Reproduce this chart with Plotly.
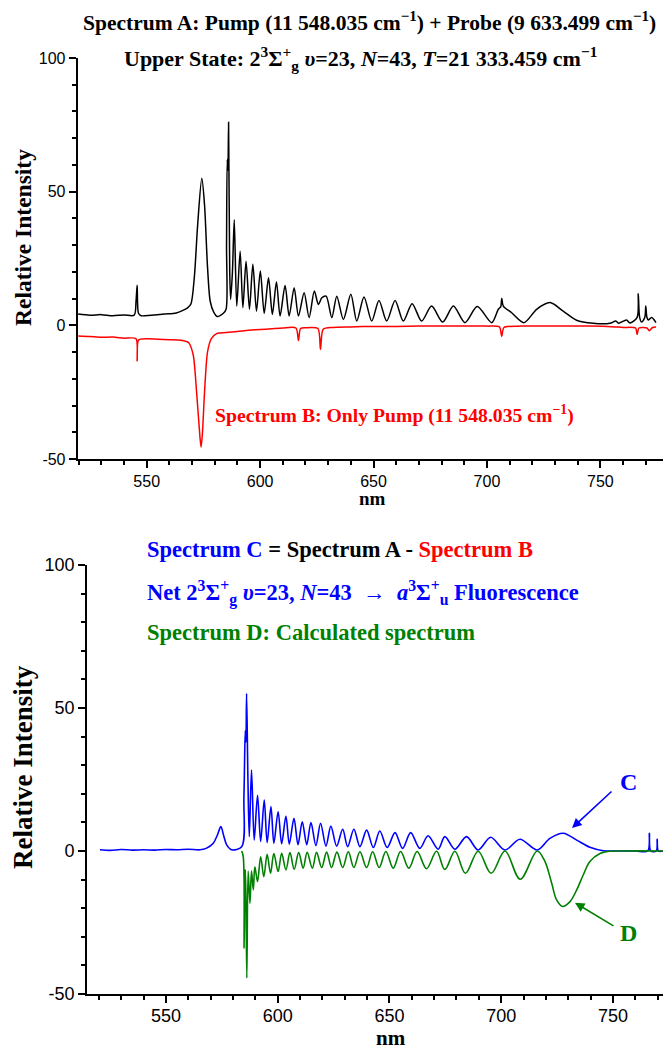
import plotly.graph_objects as go

# ---------------- data ----------------
# Spectrum A (black, top panel)
wl_a = [519.8, 525, 530, 535, 540, 544.5, 545.3, 545.8, 546.4, 547.5, 552, 558, 563, 566, 568,
        569.5, 571, 572.5, 574.3, 575.5, 576.8, 578, 579.5, 581, 583.8, 585.0, 585.2, 585.5, 585.8,
        586.1, 586.6, 587.0, 587.8, 588.6, 589.7, 591.2, 592.4, 593.8, 595.3, 596.8, 598.4, 600.1,
        601.8, 603.7, 605.4, 607.2, 608.8, 611.0, 612.8, 615.0, 616.9, 619.4, 621.6, 623.9, 625.7,
        627.2, 629.1, 631.6, 633.8, 636.7, 640.0, 642.6, 645.8, 649.2, 652.4, 655.8, 659.5, 663.1,
        667.0, 671.2, 675.6, 680.5, 685.2, 690.3, 695.7, 702.1, 705.0, 706.1, 706.5, 707.2, 710.9,
        716.3, 721.9, 727.8, 733.6, 739.5, 746.8, 754.2, 756.8, 758.0, 761.5, 763.0, 766.2, 766.7,
        767.3, 768.2, 769.6, 770.0, 770.5, 771.1, 772.6, 774.5]
int_a = [4.2, 3.8, 4.0, 3.6, 3.9, 3.8, 9.0, 15.0, 4.5, 3.6, 3.8, 4.2, 4.6, 5.6, 6.5,
         8.0, 18.0, 38.0, 55.0, 45.0, 22.0, 9.0, 5.0, 3.3, 4.5, 6.0, 30.0, 62.0, 58.0,
         76.0, 20.0, 9.7, 20.0, 39.5, 7.2, 27.7, 6.6, 24.0, 6.0, 22.8, 5.3, 20.3,
         4.5, 17.8, 4.1, 16.2, 3.5, 14.9, 3.5, 14.1, 3.5, 12.2, 2.9, 12.8, 7.8,
         10.3, 10.9, 2.9, 10.9, 2.2, 11.6, 1.6, 10.6, 1.6, 9.3, 1.6, 9.3, 1.6,
         8.1, 1.6, 7.2, 1.2, 7.2, 1.0, 7.0, 1.0, 6.0, 7.0, 10.1, 7.2, 4.7,
         1.0, 6.0, 8.5, 5.3, 1.9, 0.75, 0.75, 1.6, 0.8, 2.0, 0.9, 3.0, 11.8,
         3.0, 1.2, 3.0, 7.2, 3.0, 2.0, 2.9, 1.0]

# Spectrum B (red, top panel)
wl_b = [519.8, 525, 530, 535, 540, 545.3, 545.8, 546.4, 550, 555, 560, 565, 568.5, 570.5, 572,
        573.5, 574.0, 574.6, 575.5, 576.8, 578.5, 581, 585, 590, 595, 600, 605, 610, 615.8, 616.9,
        617.8, 620, 625.5, 626.6, 627.8, 632, 640, 650, 660, 670, 680, 690, 700, 705.5, 706.5,
        707.5, 715, 730, 745, 755, 760, 765.5, 766.2, 767.0, 770.5, 771.5, 773.0, 774.5]
int_b = [-4.0, -4.2, -4.5, -4.4, -4.8, -5.0, -13.3, -5.5, -5.0, -5.2, -5.4, -5.6, -6.5, -11.0, -25.0,
         -42.0, -45.6, -40.0, -25.0, -10.0, -5.0, -3.0, -2.7, -2.3, -1.8, -1.6, -1.3, -1.0, -1.0, -5.7,
         -1.2, -0.9, -1.2, -9.0, -1.5, -0.8, -0.6, -0.4, -0.4, -0.3, -0.3, -0.3, -0.3, -0.6, -4.2,
         -0.8, -0.3, -0.3, -0.3, -0.5, -0.8, -1.0, -3.4, -1.0, -1.0, -2.0, -0.8, -0.6]

# Spectrum C (blue, bottom panel)
wl_c = [520.5, 525, 530, 535, 540, 545, 550, 555, 560, 565.2, 568, 571.2, 573, 574.6, 575.8, 577.2,
        579.4, 583.9, 584.9, 585.5, 585.8, 586.1, 586.7, 587.3, 588.3, 589.5, 591.0, 592.4, 594.0,
        595.3, 597.0, 598.3, 600.2, 601.8, 603.7, 605.2, 607.3, 609.1, 611.0, 613.0, 614.9, 617.1,
        619.2, 621.6, 623.8, 626.4, 629.1, 631.3, 634.1, 636.8, 639.8, 642.8, 645.7, 649.0, 652.5,
        655.9, 659.5, 663.6, 667.3, 671.8, 674.8, 679.3, 684.5, 689.7, 695.3, 701.7, 708.4, 716.1,
        721.8, 727.8, 733.8, 739.7, 745.7, 751.7, 760.0, 765.6, 766.3, 766.9, 769.4, 769.8, 770.3,
        772.4]
int_c = [0.4, 0.2, 0.5, 0.3, 0.4, 0.3, 0.5, 0.4, 0.6, 0.4, 0.9, 2.7, 5.5, 8.5, 5.5, 2.1,
         0.4, 1.5, 19.0, 42.0, 38.0, 55.0, 25.0, 5.0, 28.3, 3.8, 19.5, 3.3, 17.8,
         2.9, 15.5, 2.7, 13.7, 2.5, 12.2, 2.4, 11.4, 2.2, 10.2, 2.2, 9.9, 1.9,
         9.7, 1.7, 8.7, 1.7, 7.6, 1.5, 7.6, 1.5, 7.3, 1.2, 7.0, 1.2, 6.4,
         0.9, 6.4, 0.9, 5.3, 0.6, 5.0, 0.6, 5.0, 0.35, 4.8, 0.35, 4.1, 0.35,
         4.4, 6.2, 3.8, 1.3, 0.1, 0.0, 0.0, 0.0, 6.2, 0.0, 0.0, 4.1, 0.0,
         0.0]

# Spectrum D (green, bottom panel, calculated, plotted negative)
wl_d = [583.9, 584.6, 585.0, 585.4, 585.6, 586.2, 586.8, 587.6, 588.3, 589.1, 589.8, 591.0, 592.4,
        593.8, 595.3, 596.8, 598.3, 600.2, 601.8, 603.7, 605.5, 607.4, 609.4, 611.4, 613.2, 615.5,
        617.4, 619.7, 621.9, 624.1, 626.5, 629.1, 631.6, 634.1, 636.8, 639.8, 642.5, 645.4, 648.4,
        651.7, 655.0, 658.7, 662.4, 666.6, 671.1, 674.8, 679.3, 684.0, 689.7, 695.5, 701.7, 708.5,
        716.1, 719.6, 722.6, 724.8, 727.5, 730.8, 733.8, 736.7, 739.7, 744.2, 748.7, 755.0, 772.4]
int_d = [0.0, -2.0, -34.0, -8.0, -6.6, -44.4, -7.0, -18.3, -7.0, -13.6, -5.5, -10.7, -2.0,
         -9.0, -1.2, -7.8, -0.9, -7.2, -0.8, -6.6, -0.6, -6.4, -0.6, -6.0, -0.5, -6.0,
         -0.5, -5.8, -0.4, -5.8, -0.4, -5.8, -0.3, -5.8, -0.3, -5.8, -0.3, -5.8, -0.2,
         -6.0, -0.2, -6.0, -0.2, -6.2, -0.1, -6.5, -0.1, -7.8, -0.1, -7.8, 0.0, -9.9,
         0.0, -3.7, -11.3, -17.1, -19.4, -17.7, -13.6, -8.4, -3.7, -0.9, -0.1, 0.0, 0.0]

x_ticks = [550, 600, 650, 700, 750]
y_ticks = [-50, 0, 50, 100]
y_tick_labels = ["-50", "0", "50", "100"]

# ---------------- figure ----------------
W, H = 663, 1050
SERIF = "Liberation Serif, Times New Roman, serif"
SANS = "Liberation Sans, Arial, sans-serif"


def Y(py):
    # layout helper: pixel row measured on the reference -> layout pixel row
    return (py - 10) / 0.981


fig = go.Figure()
fig.add_trace(go.Scatter(x=wl_a, y=int_a, mode="lines", xaxis="x", yaxis="y",
                         line=dict(color="#000000", width=1.5, shape="spline", smoothing=0.8)))
fig.add_trace(go.Scatter(x=wl_b, y=int_b, mode="lines", xaxis="x", yaxis="y",
                         line=dict(color="#ff0000", width=1.5, shape="spline", smoothing=0.7)))
fig.add_trace(go.Scatter(x=wl_c, y=int_c, mode="lines", xaxis="x2", yaxis="y2",
                         line=dict(color="#0000ff", width=1.6, shape="spline", smoothing=0.9)))
fig.add_trace(go.Scatter(x=wl_d, y=int_d, mode="lines", xaxis="x2", yaxis="y2",
                         line=dict(color="#008000", width=1.6, shape="spline", smoothing=1.0)))


def axis_common(fs):
    return dict(showline=True, linecolor="black", linewidth=1.6, ticks="outside",
                ticklen=7, tickwidth=1.5, tickcolor="black", showgrid=False, zeroline=False,
                tickfont=dict(family=SANS, size=fs, color="black"),
                minor=dict(ticks="outside", ticklen=4, tickwidth=1.5, tickcolor="black",
                           tick0=0, dtick=10, showgrid=False))


xa = axis_common(16)
xa.update(domain=[77.5 / W, 1.0], range=[519.5, 777.6], tickvals=x_ticks, anchor="y")
ya = axis_common(16)
ya.update(domain=[1 - Y(459) / H, 1 - Y(58) / H], range=[-50, 100], tickvals=y_ticks,
          ticktext=y_tick_labels, anchor="x")
xb = axis_common(18)
xb.update(domain=[87 / W, 1.0], range=[514.7, 772.4], tickvals=x_ticks, anchor="y2",
          ticklabelstandoff=-2)
yb = axis_common(18)
yb.update(domain=[1 - Y(994) / H, 1 - Y(565) / H], range=[-50, 100], tickvals=y_ticks,
          ticktext=y_tick_labels, anchor="x2")

fig.update_layout(
    width=W, height=H, margin=dict(l=0, r=0, t=0, b=0),
    paper_bgcolor="white", plot_bgcolor="white", showlegend=False,
    xaxis=xa, yaxis=ya, xaxis2=xb, yaxis2=yb,
)


def txt(text, px, py, size, color="black", xanchor="center", angle=0):
    fig.add_annotation(text=text, x=px / W, y=1 - Y(py) / H, xref="paper", yref="paper",
                       xanchor=xanchor, yanchor="middle", showarrow=False, textangle=angle,
                       font=dict(family=SERIF, size=size, color=color))


# top panel texts
txt("<b>Spectrum A: Pump (11 548.035 cm<sup>−1</sup>) + Probe (9 633.499 cm<sup>−1</sup>)</b>",
    369, 22, 21.5)
txt("<b>Upper State: 2<sup>3</sup>Σ<sup>+</sup><sub>g</sub> <i>υ</i>=23, <i>N</i>=43, "
    "<i>T</i>=21 333.459 cm<sup>−1</sup></b>", 360, 59, 22)
txt("<b>Spectrum B: Only Pump (11 548.035 cm<sup>−1</sup>)</b>", 213, 415, 19.7, "#ff0000",
    xanchor="left")
txt("<b>Relative Intensity</b>", 23, 238, 23.5, angle=-90)
txt("<b>nm</b>", 372, 499, 19)

# bottom panel texts
txt("<b><span style='color:#0000ff'>Spectrum C</span> = Spectrum A - "
    "<span style='color:#ff0000'>Spectrum B</span></b>", 145, 550, 22.5, xanchor="left")
txt("<b>Net 2<sup>3</sup>Σ<sup>+</sup><sub>g</sub> <i>υ</i>=23, <i>N</i>=43  →  "
    "<i>a</i><sup>3</sup>Σ<sup>+</sup><sub>u</sub> Fluorescence</b>", 145, 593, 22.5, "#0000ff",
    xanchor="left")
txt("<b>Spectrum D: Calculated spectrum</b>", 145, 633, 22.5, "#008000", xanchor="left")
txt("<b>Relative Intensity</b>", 23, 767, 27, angle=-90)
txt("<b>nm</b>", 391, 1038, 21)
txt("<b>C</b>", 628, 782, 24, "#0000ff")
txt("<b>D</b>", 628, 933, 24, "#008000")

# arrows pointing to C and D curves
fig.add_annotation(x=731.7, y=8.0, xref="x2", yref="y2", ax=41, ay=-38, text="",
                   showarrow=True, arrowhead=2, arrowsize=1.2, arrowwidth=1.6,
                   arrowcolor="#0000ff")
fig.add_annotation(x=733.0, y=-18.1, xref="x2", yref="y2", ax=40, ay=24, text="",
                   showarrow=True, arrowhead=2, arrowsize=1.2, arrowwidth=1.6,
                   arrowcolor="#008000")

fig.write_html("out.html", config={"displayModeBar": False},
               post_script="document.body.style.margin='0px';"
                           "document.body.style.overflow='hidden';")
